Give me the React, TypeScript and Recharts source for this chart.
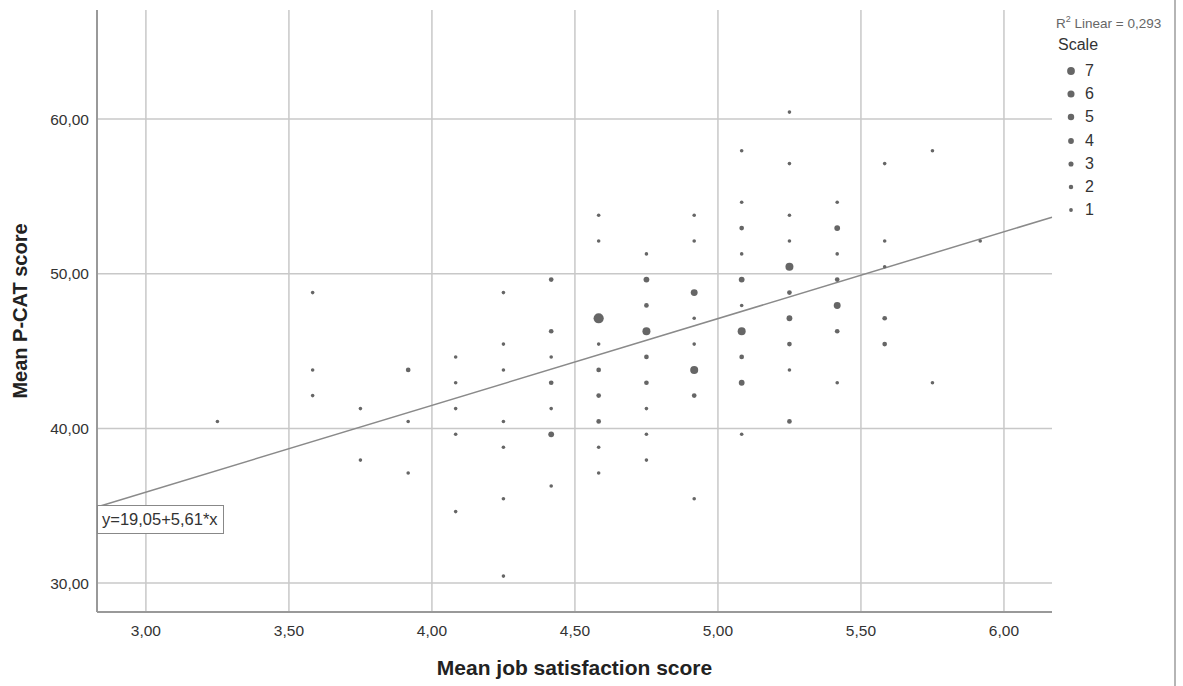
import React from "react";
import {
  ScatterChart,
  Scatter,
  XAxis,
  YAxis,
  ReferenceLine,
} from "recharts";

// Mean job satisfaction score (x), Mean P-CAT score (y), number of cases (scale)
const jobSatisfaction = [
  3.25,
  3.583, 3.583, 3.583,
  3.75, 3.75,
  3.917, 3.917, 3.917,
  4.083, 4.083, 4.083, 4.083, 4.083,
  4.25, 4.25, 4.25, 4.25, 4.25, 4.25, 4.25,
  4.417, 4.417, 4.417, 4.417, 4.417, 4.417, 4.417,
  4.583, 4.583, 4.583, 4.583, 4.583, 4.583, 4.583, 4.583, 4.583,
  4.75, 4.75, 4.75, 4.75, 4.75, 4.75, 4.75, 4.75, 4.75,
  4.917, 4.917, 4.917, 4.917, 4.917, 4.917, 4.917, 4.917,
  5.083, 5.083, 5.083, 5.083, 5.083, 5.083, 5.083, 5.083, 5.083, 5.083,
  5.25, 5.25, 5.25, 5.25, 5.25, 5.25, 5.25, 5.25, 5.25, 5.25,
  5.417, 5.417, 5.417, 5.417, 5.417, 5.417, 5.417,
  5.583, 5.583, 5.583, 5.583, 5.583,
  5.75, 5.75,
  5.917,
];

const pcatScore = [
  40.45,
  48.78, 43.78, 42.12,
  41.28, 37.95,
  43.78, 40.45, 37.12,
  44.62, 42.95, 41.28, 39.62, 34.62,
  48.78, 45.45, 43.78, 40.45, 38.78, 35.45, 30.45,
  49.62, 46.28, 44.62, 42.95, 41.28, 39.62, 36.28,
  53.78, 52.12, 47.12, 45.45, 43.78, 42.12, 40.45, 38.78, 37.12,
  51.28, 49.62, 47.95, 46.28, 44.62, 42.95, 41.28, 39.62, 37.95,
  53.78, 52.12, 48.78, 47.12, 45.45, 43.78, 42.12, 35.45,
  57.95, 54.62, 52.95, 51.28, 49.62, 47.95, 46.28, 44.62, 42.95, 39.62,
  60.45, 57.12, 53.78, 52.12, 50.45, 48.78, 47.12, 45.45, 43.78, 40.45,
  54.62, 52.95, 51.28, 49.62, 47.95, 46.28, 42.95,
  57.12, 52.12, 50.45, 47.12, 45.45,
  57.95, 42.95,
  52.12,
];

const caseCount = [
  1,
  1, 1, 1,
  1, 1,
  2, 1, 1,
  1, 1, 1, 1, 1,
  1, 1, 1, 1, 1, 1, 1,
  2, 2, 1, 2, 1, 3, 1,
  1, 1, 7, 1, 2, 2, 2, 1, 1,
  1, 3, 2, 5, 2, 2, 1, 1, 1,
  1, 1, 4, 1, 1, 5, 2, 1,
  1, 1, 2, 1, 3, 1, 5, 2, 3, 1,
  1, 1, 1, 1, 5, 2, 3, 2, 1, 2,
  1, 3, 1, 2, 4, 2, 1,
  1, 1, 1, 2, 2,
  1, 1,
  1,
];

const xTicks = [3.0, 3.5, 4.0, 4.5, 5.0, 5.5, 6.0];
const yTicks = [30, 40, 50, 60];
const scaleLevels = [7, 6, 5, 4, 3, 2, 1];

const intercept = 19.05;
const slope = 5.61;
const rSquared = "0,293";

const xDomain: [number, number] = [2.829, 6.168];
const yDomain: [number, number] = [28.13, 67.05];

const data = jobSatisfaction.map((x, i) => ({
  x,
  y: pcatScore[i],
  n: caseCount[i],
}));

const FONT = "'Liberation Sans', Arial, sans-serif";
const DOT = "#666666";
const GRID = "#c8c8c8";

const radiusFor = (n: number) => 1.8 + 0.55 * (n - 1);
const legendRadius = (n: number) => 1.9 + 0.33 * (n - 1);

const fmt = (v: number) => v.toFixed(2).replace(".", ",");

const DotShape = (props: any) => {
  const { cx, cy, payload } = props;
  if (cx == null || cy == null) return null;
  return <circle cx={cx} cy={cy} r={radiusFor(payload.n)} fill={DOT} />;
};

export default function App() {
  return (
    <div style={{ position: "absolute", left: 0, top: 0, width: 1183, height: 686, background: "#fff" }}>
      <ScatterChart
        width={1183}
        height={686}
        margin={{ top: 10, right: 131, bottom: 0, left: 0 }}
        style={{ fontFamily: FONT }}
      >
        {xTicks.map((t) => (
          <ReferenceLine key={"gx" + t} x={t} stroke={GRID} strokeWidth={1.5} />
        ))}
        {yTicks.map((t) => (
          <ReferenceLine key={"gy" + t} y={t} stroke={GRID} strokeWidth={1.5} />
        ))}
        <XAxis
          type="number"
          dataKey="x"
          domain={xDomain}
          ticks={xTicks}
          tickFormatter={fmt}
          allowDataOverflow
          height={74}
          tickLine={false}
          tickSize={0}
          tickMargin={13}
          axisLine={{ stroke: "#999", strokeWidth: 2 }}
          tick={{ fill: "#333", fontSize: 15.5, fontFamily: FONT }}
          label={{
            value: "Mean job satisfaction score",
            position: "insideBottom",
            offset: 11,
            style: { fontSize: 21, fontWeight: "bold", fill: "#222", fontFamily: FONT },
          }}
        />
        <YAxis
          type="number"
          dataKey="y"
          domain={yDomain}
          ticks={yTicks}
          tickFormatter={fmt}
          allowDataOverflow
          width={97}
          tickLine={false}
          tickSize={0}
          tickMargin={8}
          axisLine={{ stroke: "#999", strokeWidth: 2 }}
          tick={{ fill: "#333", fontSize: 15.5, fontFamily: FONT }}
          label={{
            value: "Mean P-CAT score",
            angle: -90,
            position: "insideLeft",
            offset: 20,
            textAnchor: "middle",
            style: { fontSize: 20, fontWeight: "bold", fill: "#222", fontFamily: FONT, textAnchor: "middle" },
          }}
        />
        <ReferenceLine
          segment={[
            { x: xDomain[0], y: intercept + slope * xDomain[0] },
            { x: xDomain[1], y: intercept + slope * xDomain[1] },
          ]}
          stroke="#8a8a8a"
          strokeWidth={1.5}
          ifOverflow="visible"
        />
        <Scatter data={data} shape={DotShape} isAnimationActive={false} />
      </ScatterChart>

      <div style={{ position: "absolute", left: 1056, top: 9, width: 127, fontFamily: FONT, color: "#333" }}>
        <div style={{ fontSize: 13.5, color: "#666", whiteSpace: "nowrap", height: 20, lineHeight: "20px" }}>
          R<sup style={{ fontSize: 9 }}>2</sup> Linear = {rSquared}
        </div>
        <div style={{ fontSize: 16, paddingLeft: 2, height: 30, lineHeight: "32px" }}>Scale</div>
        {scaleLevels.map((s) => (
          <div key={s} style={{ display: "flex", alignItems: "center", height: 23.3 }}>
            <svg width={22} height={14}>
              <circle cx={15} cy={7} r={legendRadius(s)} fill={DOT} />
            </svg>
            <span style={{ fontSize: 16, lineHeight: "16px", marginLeft: 7 }}>{s}</span>
          </div>
        ))}
      </div>

      <div
        style={{
          position: "absolute",
          left: 97,
          top: 505,
          width: 127,
          height: 29,
          border: "1px solid #888",
          background: "#fff",
          boxSizing: "border-box",
          fontFamily: FONT,
          fontSize: 16.5,
          color: "#333",
          lineHeight: "27px",
          paddingLeft: 4,
          whiteSpace: "nowrap",
          overflow: "hidden",
        }}
      >
        y=19,05+5,61*x
      </div>
      <div style={{ position: "absolute", left: 1174, top: 0, width: 2, height: 686, background: "#b5b5b5" }} />
    </div>
  );
}
